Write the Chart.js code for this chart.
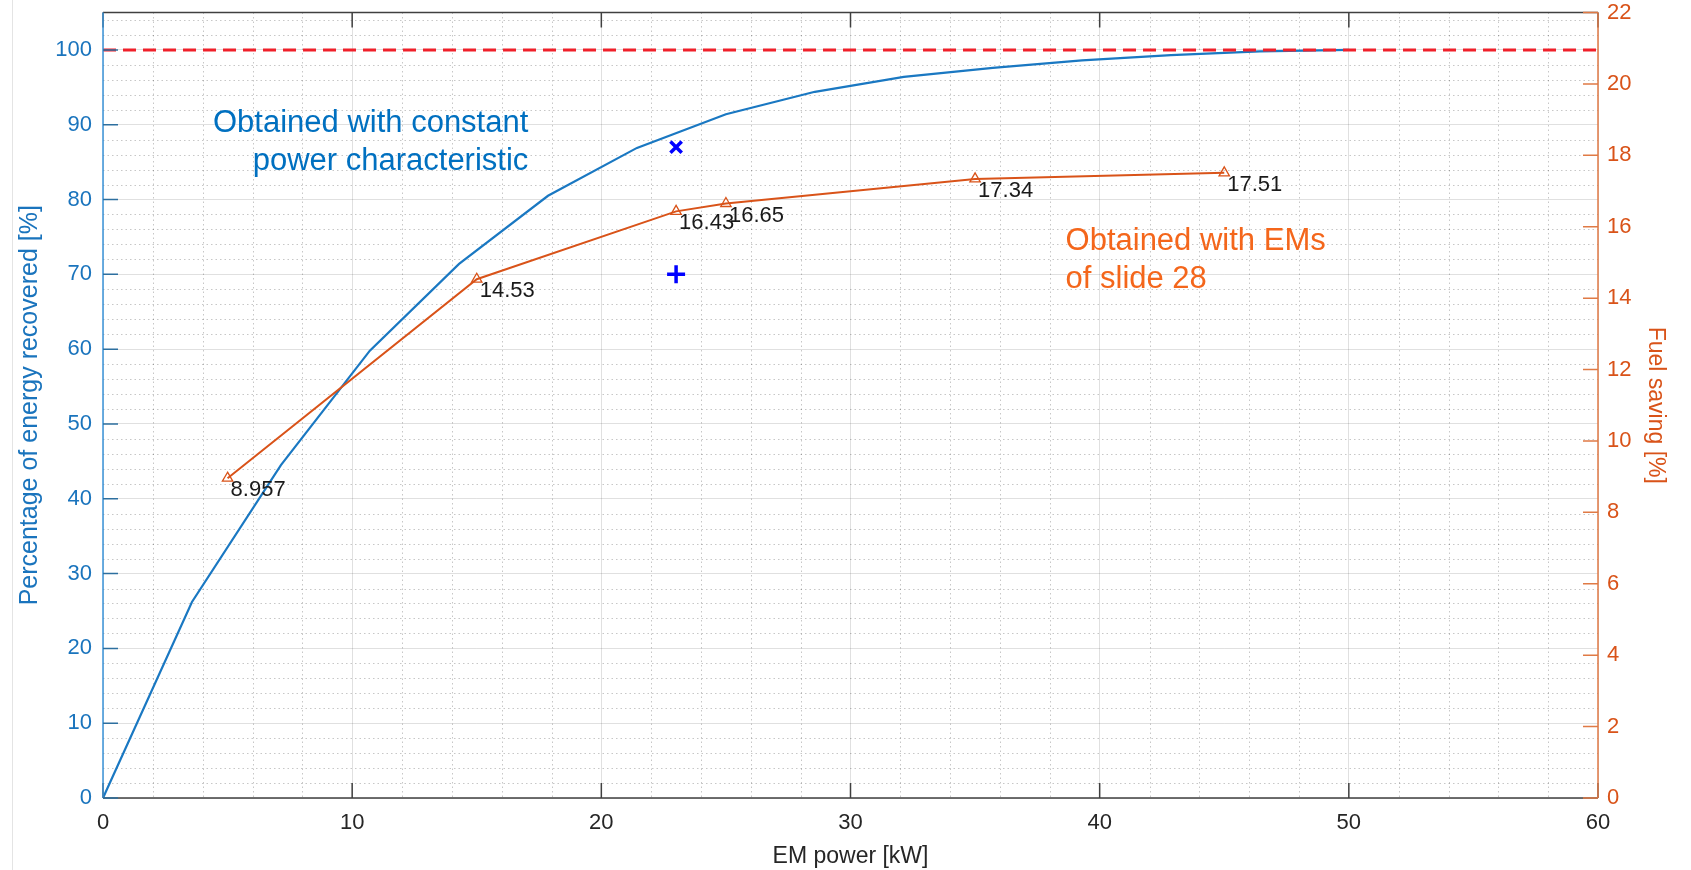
<!DOCTYPE html>
<html>
<head>
<meta charset="utf-8">
<title>EM power vs energy recovered</title>
<script src="https://cdn.jsdelivr.net/npm/chart.js@4.4.1/dist/chart.umd.min.js"></script>
<style>
  html,body{margin:0;padding:0;background:#fff;}
  #wrap{width:1691px;height:870px;}
</style>
</head>
<body>
<div id="wrap"><canvas id="chart" width="1691" height="870"></canvas></div>
<script>
/* ===== Data ===== */
// constant power characteristic (left axis)
const powerKw      = [0, 3.57, 7.14, 10.71, 14.29, 17.86, 21.43, 25, 28.57, 32.14, 35.71, 39.29, 42.86, 46.43, 50];
const recoveredPct = [0, 26.2, 44.5, 59.8, 71.4, 80.5, 86.9, 91.4, 94.4, 96.4, 97.6, 98.6, 99.3, 99.8, 100];

// EMs of slide 28 (right axis)
const emPower    = [5, 15, 23, 25, 35, 45];
const fuelSaving = [8.957, 14.53, 16.43, 16.65, 17.34, 17.51];

// single points at 23 kW
const crossPower = [23];
const crossPct   = [87];
const plusPower  = [23];
const plusPct    = [70];

// 100 % reference
const refPower = [0, 60];
const refPct   = [100, 100];

// ticks
const xTicks     = [0, 10, 20, 30, 40, 50, 60];
const leftTicks  = [0, 10, 20, 30, 40, 50, 60, 70, 80, 90, 100];
const rightTicks = [0, 2, 4, 6, 8, 10, 12, 14, 16, 18, 20, 22];

/* ===== Style ===== */
const FONT   = '"Liberation Sans", Arial, Helvetica, sans-serif';
const ORANGE = '#D95319';
const DARK   = '#404040';

const pts = (xs, ys)=> xs.map((v,i)=> ({x:v, y:ys[i]}));

// fixed box sizes so the plot area stays put
const fitBox = (w, h)=> (s)=>{
  if (w) s.width = w;
  if (h) s.height = h;
  s.paddingTop = 0; s.paddingBottom = 0;
  s.paddingLeft = 0; s.paddingRight = 0;
};

const notes = [
  {lines:['Obtained with constant','power characteristic'], x:17.07, y:89.05, align:'right', color:'#0070C0'},
  {lines:['Obtained with EMs','of slide 28'],              x:38.63, y:73.2,  align:'left',  color:'#F4661B'}
];

/* ===== Minor grid, box, ticks, labels ===== */
const decor = {
  id:'decor',
  beforeDatasetsDraw(chart){
    const {ctx, chartArea:a, scales:{x,y}} = chart;
    ctx.save();
    ctx.strokeStyle = 'rgba(0,0,0,0.22)';
    ctx.lineWidth = 1;
    ctx.setLineDash([1.5,3]);
    ctx.beginPath();
    for (let v=2; v<60; v+=2){
      if (v%10===0) continue;
      const px = Math.round(x.getPixelForValue(v))+0.5;
      ctx.moveTo(px,a.top); ctx.lineTo(px,a.bottom);
    }
    for (let v=2; v<105; v+=2){
      if (v%10===0) continue;
      const py = Math.round(y.getPixelForValue(v))+0.5;
      ctx.moveTo(a.left,py); ctx.lineTo(a.right,py);
    }
    ctx.stroke();
    ctx.restore();
  },
  afterDatasetsDraw(chart){
    const {ctx, chartArea:a, scales:{x,y,y1}} = chart;
    const TL = 15;
    ctx.save();

    // faint page edge
    ctx.strokeStyle = '#e4e4e4'; ctx.lineWidth = 1;
    ctx.beginPath(); ctx.moveTo(12.5,0); ctx.lineTo(12.5,870); ctx.stroke();

    // top and bottom rulers
    ctx.strokeStyle = DARK; ctx.lineWidth = 1.5;
    ctx.beginPath();
    ctx.moveTo(a.left,a.top); ctx.lineTo(a.right,a.top);
    ctx.moveTo(a.left,a.bottom); ctx.lineTo(a.right,a.bottom);
    xTicks.forEach(v=>{
      const px = x.getPixelForValue(v);
      ctx.moveTo(px,a.bottom); ctx.lineTo(px,a.bottom-TL);
      ctx.moveTo(px,a.top);    ctx.lineTo(px,a.top+TL);
    });
    ctx.stroke();

    // left ruler
    ctx.strokeStyle = '#3a93d8';
    ctx.beginPath();
    ctx.moveTo(a.left,a.top); ctx.lineTo(a.left,a.bottom);
    ctx.stroke();
    ctx.strokeStyle = '#2d6f9f';
    ctx.beginPath();
    leftTicks.forEach(v=>{
      const py = y.getPixelForValue(v);
      ctx.moveTo(a.left,py); ctx.lineTo(a.left+TL,py);
    });
    ctx.stroke();

    // right ruler
    ctx.strokeStyle = '#e07a45';
    ctx.beginPath();
    ctx.moveTo(a.right,a.top); ctx.lineTo(a.right,a.bottom);
    rightTicks.forEach(v=>{
      const py = y1.getPixelForValue(v);
      ctx.moveTo(a.right,py); ctx.lineTo(a.right-TL,py);
    });
    ctx.stroke();

    // value labels on the fuel saving points
    ctx.fillStyle = '#1a1a1a';
    ctx.font = '22px '+FONT;
    ctx.textAlign = 'left';
    ctx.textBaseline = 'alphabetic';
    emPower.forEach((p,i)=>{
      const px = x.getPixelForValue(p);
      const py = y1.getPixelForValue(fuelSaving[i]);
      ctx.fillText(String(fuelSaving[i]), px+3, py+18);
    });

    // text notes
    ctx.font = '31px '+FONT;
    notes.forEach(n=>{
      const px = x.getPixelForValue(n.x);
      const py = y.getPixelForValue(n.y);
      ctx.fillStyle = n.color;
      ctx.textAlign = n.align;
      n.lines.forEach((t,k)=> ctx.fillText(t, px, py + k*38));
    });

    ctx.restore();
  }
};

/* ===== Chart ===== */
new Chart(document.getElementById('chart').getContext('2d'), {
  type:'scatter',
  data:{
    datasets:[
      { data:pts(crossPower,crossPct), yAxisID:'y', pointStyle:'crossRot', pointRadius:8, pointBorderWidth:3.5,
        borderColor:'#0000FF', backgroundColor:'#0000FF', showLine:false },
      { data:pts(plusPower,plusPct), yAxisID:'y', pointStyle:'cross', pointRadius:9, pointBorderWidth:3.5,
        borderColor:'#0000FF', backgroundColor:'#0000FF', showLine:false },
      { data:pts(refPower,refPct), yAxisID:'y', showLine:true, pointRadius:0, borderColor:'#F0202A',
        borderWidth:3, borderDash:[13,7] },
      { data:pts(emPower,fuelSaving), yAxisID:'y1', showLine:true, borderColor:ORANGE, borderWidth:2,
        pointStyle:'triangle', pointRadius:6, pointBorderWidth:1.3, pointBorderColor:ORANGE,
        pointBackgroundColor:'rgba(0,0,0,0)' },
      { data:pts(powerKw,recoveredPct), yAxisID:'y', showLine:true, pointRadius:0, borderColor:'#1a78c2',
        borderWidth:2.2 }
    ]
  },
  options:{
    responsive:false,
    animation:false,
    events:[],
    layout:{ padding:{top:12, left:0, right:0, bottom:0} },
    plugins:{ legend:{display:false}, tooltip:{enabled:false} },
    scales:{
      x:{
        type:'linear', min:0, max:60,
        afterBuildTicks:(s)=>{ s.ticks = xTicks.map(v=>({value:v})); },
        afterFit:fitBox(0, 72),
        grid:{ color:'rgba(0,0,0,0.12)', drawTicks:false },
        border:{ display:false },
        ticks:{ color:'#262626', padding:12, font:{family:FONT, size:22} },
        title:{ display:true, text:'EM power [kW]', color:'#262626', padding:{top:0,bottom:0}, font:{family:FONT, size:23} }
      },
      y:{
        type:'linear', position:'left', min:0, max:105,
        afterBuildTicks:(s)=>{ s.ticks = leftTicks.map(v=>({value:v})); },
        afterFit:fitBox(103, 0),
        grid:{ color:'rgba(0,0,0,0.12)', drawTicks:false },
        border:{ display:false },
        ticks:{ color:'#1a74bd', padding:11, font:{family:FONT, size:22} },
        title:{ display:true, text:'Percentage of energy recovered [%]', color:'#1a74bd', padding:{top:15,bottom:0}, font:{family:FONT, size:25} }
      },
      y1:{
        type:'linear', position:'right', min:0, max:22,
        afterBuildTicks:(s)=>{ s.ticks = rightTicks.map(v=>({value:v})); },
        afterFit:fitBox(93, 0),
        grid:{ display:false, drawTicks:false },
        border:{ display:false },
        ticks:{ color:ORANGE, padding:9, font:{family:FONT, size:22} },
        title:{ display:true, text:'Fuel saving [%]', color:ORANGE, padding:{top:22,bottom:0}, font:{family:FONT, size:23} }
      }
    }
  },
  plugins:[decor]
});
</script>
</body>
</html>
